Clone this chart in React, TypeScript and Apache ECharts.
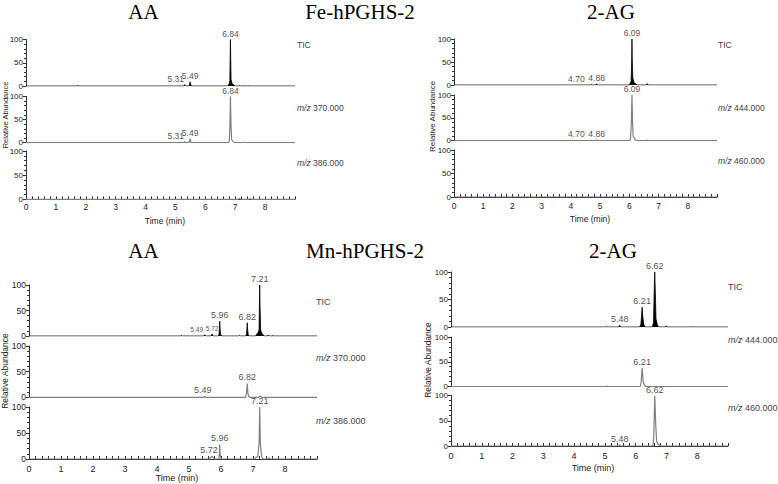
import React, { useEffect, useRef } from "react";
import * as echarts from "echarts";

type Pt = [number, number];

const SANS = '"Liberation Sans", Arial, Helvetica, sans-serif';
const SERIF = '"Liberation Serif", "Times New Roman", Times, serif';

const titles = ["AA", "Fe-hPGHS-2", "2-AG", "AA", "Mn-hPGHS-2", "2-AG"];
const xAxisTitle = "Time (min)";
const yAxisTitle = "Relative Abundance";

// ---------- Fe-hPGHS-2, AA ----------
const feAA_tags = ["TIC", "m/z 370.000", "m/z 386.000"];
const feAA_TIC: Pt[] = [
  [0, 0], [1.71, 0], [1.74, 1.2], [1.77, 0], [5.28, 0], [5.31, 3], [5.34, 0], [5.46, 0], [5.48, 6], [5.49, 9], [5.5, 6], [5.53, 0],
  [6.74, 0], [6.77, 2], [6.8, 5], [6.82, 12], [6.83, 60], [6.84, 100], [6.85, 55], [6.86, 14], [6.89, 6], [6.94, 2.5], [7.0, 0],
  [7.12, 0], [7.14, 1], [7.16, 0], [7.27, 0], [7.29, 1], [7.31, 0], [7.44, 0], [7.46, 1], [7.48, 0], [9, 0],
];
const feAA_TIC_peaks: Pt[] = [[5.31, 3], [5.49, 9], [6.84, 100]];
const feAA_370: Pt[] = [
  [0, 0], [5.28, 0], [5.31, 2.5], [5.34, 0], [5.46, 0], [5.49, 9], [5.52, 0], [6.77, 0], [6.8, 3], [6.82, 30], [6.84, 100],
  [6.86, 35], [6.88, 7], [6.93, 2], [6.99, 0], [7.25, 0], [7.3, 1], [7.35, 0], [9, 0],
];
const feAA_370_peaks: Pt[] = [[5.31, 2.5], [5.49, 9], [6.84, 100]];
const feAA_386: Pt[] = [[0, 0], [7.1, 0], [7.15, 1.5], [7.2, 0], [7.45, 0], [7.5, 1.2], [7.55, 0], [9, 0]];
const feAA_386_peaks: Pt[] = [];

// ---------- Fe-hPGHS-2, 2-AG ----------
const fe2AG_tags = ["TIC", "m/z 444.000", "m/z 460.000"];
const fe2AG_TIC: Pt[] = [
  [0, 0], [4.67, 0], [4.7, 1], [4.73, 0], [4.85, 0], [4.88, 2.5], [4.91, 0], [5.99, 0], [6.02, 3], [6.06, 8], [6.08, 50],
  [6.09, 100], [6.1, 55], [6.12, 15], [6.16, 6], [6.22, 2], [6.28, 0], [6.58, 0], [6.61, 3], [6.64, 0], [9, 0],
];
const fe2AG_TIC_peaks: Pt[] = [[4.7, 1], [4.88, 2.5], [6.09, 100]];
const fe2AG_444: Pt[] = [
  [0, 0], [4.67, 0], [4.7, 0.8], [4.73, 0], [4.85, 0], [4.88, 2], [4.91, 0], [6.0, 0], [6.04, 4], [6.07, 40], [6.09, 100],
  [6.11, 40], [6.13, 10], [6.19, 3], [6.26, 0], [6.58, 0], [6.61, 1.5], [6.64, 0], [9, 0],
];
const fe2AG_444_peaks: Pt[] = [[4.7, 0.8], [4.88, 2], [6.09, 100]];
const fe2AG_460: Pt[] = [[0, 0], [9, 0]];
const fe2AG_460_peaks: Pt[] = [];

// ---------- Mn-hPGHS-2, AA ----------
const mnAA_tags = ["TIC", "m/z 370.000", "m/z 386.000"];
const mnAA_TIC: Pt[] = [
  [0, 0], [4.75, 0], [4.77, 1.2], [4.79, 0], [5.46, 0], [5.49, 2.5], [5.52, 0], [5.69, 0], [5.72, 4], [5.75, 0],
  [5.92, 0], [5.94, 4], [5.95, 15], [5.96, 29], [5.97, 15], [5.99, 3], [6.02, 0], [6.55, 0], [6.58, 1], [6.61, 0],
  [6.78, 0], [6.8, 5], [6.81, 15], [6.82, 26], [6.83, 14], [6.85, 3], [6.88, 0], [7.08, 0], [7.12, 4], [7.16, 7], [7.19, 12],
  [7.2, 60], [7.21, 100], [7.22, 60], [7.24, 12], [7.27, 6], [7.31, 3], [7.35, 0], [7.45, 0], [7.48, 2], [7.51, 0],
  [7.58, 0], [7.6, 1.2], [7.62, 0], [9, 0],
];
const mnAA_TIC_peaks: Pt[] = [[5.49, 2.5], [5.72, 4], [5.96, 29], [6.82, 26], [7.21, 100]];
const mnAA_370: Pt[] = [
  [0, 0], [5.46, 0], [5.49, 2], [5.52, 0], [6.77, 0], [6.8, 10], [6.82, 27], [6.84, 8], [6.88, 0],
  [7.18, 0], [7.22, 2.5], [7.28, 0], [9, 0],
];
const mnAA_370_peaks: Pt[] = [[5.49, 2], [6.82, 27]];
const mnAA_386: Pt[] = [
  [0, 0], [5.62, 0], [5.68, 3], [5.72, 5], [5.76, 2], [5.8, 0], [5.93, 0], [5.95, 10], [5.96, 28], [5.97, 10], [6.0, 0],
  [7.05, 0], [7.1, 3], [7.15, 5], [7.19, 30], [7.21, 100], [7.23, 30], [7.27, 4], [7.32, 0], [7.45, 0], [7.5, 2], [7.55, 0], [9, 0],
];
const mnAA_386_peaks: Pt[] = [[5.72, 5], [5.96, 28], [7.21, 100]];

// ---------- Mn-hPGHS-2, 2-AG ----------
const mn2AG_tags = ["TIC", "m/z 444.000", "m/z 460.000"];
const mn2AG_TIC: Pt[] = [
  [0, 0], [5.03, 0], [5.05, 1], [5.07, 0], [5.45, 0], [5.48, 3], [5.51, 0], [6.13, 0], [6.17, 5], [6.19, 20], [6.21, 36],
  [6.23, 20], [6.26, 5], [6.31, 0], [6.54, 0], [6.58, 8], [6.6, 60], [6.62, 100], [6.64, 60], [6.66, 15], [6.71, 3], [6.77, 0],
  [6.96, 0], [6.99, 2], [7.02, 0], [7.78, 0], [7.8, 1], [7.82, 0], [9, 0],
];
const mn2AG_TIC_peaks: Pt[] = [[5.48, 3], [6.21, 36], [6.62, 100]];
const mn2AG_444: Pt[] = [
  [0, 0], [5.05, 0], [5.07, 0.8], [5.09, 0], [6.15, 0], [6.18, 10], [6.21, 38], [6.24, 12], [6.28, 3], [6.33, 0], [9, 0],
];
const mn2AG_444_peaks: Pt[] = [[6.21, 38]];
const mn2AG_460: Pt[] = [
  [0, 0], [5.45, 0], [5.48, 1.5], [5.51, 0], [6.56, 0], [6.59, 20], [6.62, 100], [6.65, 45], [6.68, 10], [6.72, 4], [6.78, 1],
  [6.85, 0], [6.98, 0], [7.0, 1], [7.02, 0], [9, 0],
];
const mn2AG_460_peaks: Pt[] = [[5.48, 1.5], [6.62, 100]];

const PANELS = [
  { tags: feAA_tags, traces: [feAA_TIC, feAA_370, feAA_386], peaks: [feAA_TIC_peaks, feAA_370_peaks, feAA_386_peaks] },
  { tags: fe2AG_tags, traces: [fe2AG_TIC, fe2AG_444, fe2AG_460], peaks: [fe2AG_TIC_peaks, fe2AG_444_peaks, fe2AG_460_peaks] },
  { tags: mnAA_tags, traces: [mnAA_TIC, mnAA_370, mnAA_386], peaks: [mnAA_TIC_peaks, mnAA_370_peaks, mnAA_386_peaks] },
  { tags: mn2AG_tags, traces: [mn2AG_TIC, mn2AG_444, mn2AG_460], peaks: [mn2AG_TIC_peaks, mn2AG_444_peaks, mn2AG_460_peaks] },
];

// ---------- layout (positions / styles only) ----------
const LAYOUT = [
  { left: 26, width: 269, rows: [[39.5, 86], [96.5, 142.7], [151, 199.3]], tagX: 297, tagY: [45, 108, 163], font: 8.5, yFont: 8, xMargin: 3.5, timeX: 165, timeY: 221, relX: 5, relY: 115, relFont: 7.5 },
  { left: 454, width: 263, rows: [[39, 85], [95, 140.7], [150, 197]], tagX: 718, tagY: [45, 108, 161], font: 8.5, yFont: 8, xMargin: 4.5, timeX: 590, timeY: 219, relX: 432, relY: 116.5, relFont: 8 },
  { left: 29, width: 288, rows: [[285, 336], [346, 397.3], [407, 459]], tagX: 316, tagY: [302, 358, 421], font: 9, yFont: 8.5, xMargin: 5.5, timeX: 177, timeY: 478, relX: 5, relY: 371, relFont: 8.5 },
  { left: 451, width: 277, rows: [[272, 327], [337, 386.5], [395.5, 446]], tagX: 728, tagY: [287, 340, 408], font: 9, yFont: 8, xMargin: 5, timeX: 593, timeY: 468, relX: 428, relY: 360, relFont: 8.5 },
];
const TITLE_POS = [[143.5, 11.5], [360, 11.5], [611, 11.5], [143.5, 251], [365, 251], [613, 251]];

const PEAK_LABEL_STYLE: Record<string, { offset?: [number, number]; fontSize?: number }> = {
  "0-0-5.31": { offset: [-9, 0] },
  "0-1-5.31": { offset: [-9, 0] },
  "1-0-4.70": { offset: [-15, 0] },
  "1-1-4.70": { offset: [-15, 0] },
  "2-0-5.49": { offset: [-8, 0], fontSize: 6.5 },
  "2-0-5.72": { fontSize: 6.5 },
  "2-1-5.49": { offset: [-2, 0] },
  "2-2-5.72": { offset: [-3, 0] },
};

function textEl(x: number, y: number, text: string, fontSize: number, opts: any = {}) {
  return {
    type: "text",
    x,
    y,
    rotation: opts.rotation || 0,
    silent: true,
    style: {
      text,
      fontSize,
      fontFamily: opts.fontFamily || SANS,
      fill: opts.fill || "#222",
      textAlign: opts.align || "center",
      align: opts.align || "center",
      textVerticalAlign: "middle",
      verticalAlign: "middle",
      rich: opts.rich,
    },
  };
}

function buildOption() {
  const grids: any[] = [];
  const xAxes: any[] = [];
  const yAxes: any[] = [];
  const series: any[] = [];
  const graphics: any[] = [];

  PANELS.forEach((panel, pi) => {
    const L = LAYOUT[pi];
    panel.traces.forEach((trace, ri) => {
      const idx = grids.length;
      const [top, bottom] = L.rows[ri];
      const isBottom = ri === 2;
      const isTIC = ri === 0;
      grids.push({ left: L.left, top, width: L.width, height: bottom - top, containLabel: false });
      xAxes.push({
        gridIndex: idx,
        type: "value",
        min: 0,
        max: 9,
        interval: 1,
        show: isBottom,
        axisLine: { show: true, lineStyle: { color: "#333", width: 1 } },
        axisTick: { show: true, inside: true, length: 3, lineStyle: { color: "#333" } },
        minorTick: { show: true, splitNumber: 5, length: 3, lineStyle: { color: "#333" } },
        axisLabel: { showMaxLabel: false, fontSize: L.font, margin: L.xMargin, color: "#222", fontFamily: SANS },
        splitLine: { show: false },
        minorSplitLine: { show: false },
      });
      yAxes.push({
        gridIndex: idx,
        type: "value",
        min: 0,
        max: 100,
        interval: 50,
        axisLine: { show: true, lineStyle: { color: "#333", width: 1 } },
        axisTick: { show: true, length: 3, lineStyle: { color: "#333" } },
        minorTick: { show: true, splitNumber: 5, length: 2, lineStyle: { color: "#333" } },
        axisLabel: { fontSize: L.yFont, margin: 3, color: "#222", fontFamily: SANS },
        splitLine: { show: false },
        minorSplitLine: { show: false },
      });
      series.push({
        type: "line",
        xAxisIndex: idx,
        yAxisIndex: idx,
        data: trace,
        showSymbol: false,
        symbol: "none",
        silent: true,
        z: 3,
        lineStyle: { color: isTIC ? "#000" : "#808080", width: isTIC ? 0.8 : 1.2 },
        areaStyle: isTIC ? { color: "#000", opacity: 1 } : undefined,
      });
      const peaks = panel.peaks[ri];
      if (peaks.length) {
        series.push({
          type: "scatter",
          xAxisIndex: idx,
          yAxisIndex: idx,
          symbolSize: 1,
          silent: true,
          z: 5,
          itemStyle: { color: "rgba(0,0,0,0)" },
          label: {
            show: true,
            position: "top",
            distance: 1,
            color: "#1a1a1a",
            fontFamily: SANS,
            fontSize: L.font,
            formatter: (p: any) => Number(p.value[0]).toFixed(2),
          },
          data: peaks.map(([t, y]) => {
            const st = PEAK_LABEL_STYLE[`${pi}-${ri}-${t.toFixed(2)}`] || {};
            return { value: [t, y], label: { offset: st.offset || [0, 0], fontSize: st.fontSize || L.font } };
          }),
        });
      }
      const tag = panel.tags[ri];
      if (tag.startsWith("m/z ")) {
        graphics.push(
          textEl(L.tagX, L.tagY[ri], "{i|m/z} " + tag.slice(4), L.font, {
            align: "left",
            fill: "#444",
            rich: { i: { fontStyle: "italic", fontSize: L.font, fontFamily: SANS, fill: "#444", color: "#444" } },
          })
        );
      } else {
        graphics.push(textEl(L.tagX, L.tagY[ri], tag, L.font, { align: "left", fill: "#444" }));
      }
    });
    graphics.push(textEl(L.timeX, L.timeY, xAxisTitle, L.font));
    graphics.push(textEl(L.relX, L.relY, yAxisTitle, L.relFont, { rotation: Math.PI / 2 }));
  });

  titles.forEach((t, i) => {
    graphics.push(textEl(TITLE_POS[i][0], TITLE_POS[i][1], t, 21, { fontFamily: SERIF, fill: "#000" }));
  });

  return {
    animation: false,
    backgroundColor: "#fff",
    grid: grids,
    xAxis: xAxes,
    yAxis: yAxes,
    series,
    graphic: { elements: graphics },
  };
}

export default function App() {
  const ref = useRef<HTMLDivElement>(null);
  useEffect(() => {
    if (!ref.current) return;
    const chart = echarts.init(ref.current, undefined, { renderer: "svg" });
    chart.setOption(buildOption() as any);
    return () => chart.dispose();
  }, []);
  return (
    <div
      ref={ref}
      style={{ position: "fixed", left: 0, top: 0, width: 778, height: 484, background: "#fff" }}
    />
  );
}
